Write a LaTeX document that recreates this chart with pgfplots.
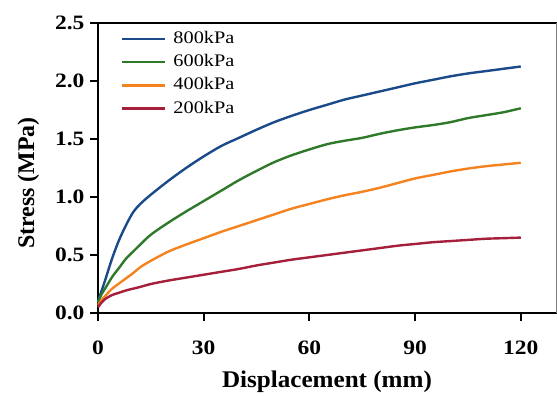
\documentclass[border=0pt]{standalone}
\usepackage{pgfplots}
\pgfplotsset{compat=1.18}
\usepackage{fontspec}
\setmainfont{Liberation Serif}[FakeStretch=1.15]
\newfontfamily\ylabfont{Liberation Serif}
\newfontfamily\xlabfont{Liberation Serif}[FakeStretch=1.05]
\definecolor{c800}{HTML}{1B4A8A}
\definecolor{c600}{HTML}{2F7A2A}
\definecolor{c400}{HTML}{F5821F}
\definecolor{c200}{HTML}{A51E3A}
\begin{document}
\begin{tikzpicture}
\begin{axis}[
  scale only axis,
  width=458bp, height=290bp,
  xmin=0, xmax=130, ymin=0, ymax=2.5,
  xtick={0,30,60,90,120},
  ytick={0,0.5,1.0,1.5,2.0,2.5},
  yticklabel style={/pgf/number format/fixed,/pgf/number format/fixed zerofill,/pgf/number format/precision=1},
  /pgf/number format/assume math mode=true,
  xtick pos=bottom, ytick pos=left,
  axis line style={line width=2.4bp, black},
  tick align=outside,
  major tick length=8bp,
  xtick style={draw=black, line width=2.2bp},
  ytick style={draw=black, line width=2.2bp},
  ticklabel style={font=\fontsize{20.5}{22}\selectfont\bfseries},
  xticklabel style={yshift=-16.5bp},
  yticklabel style={xshift=-2bp},
  xlabel={Displacement (mm)},
  ylabel={Stress (MPa)},
  every axis x label/.style={at={(rel axis cs:0.5,-0.2586)}, anchor=base, font=\fontsize{24}{26}\selectfont\xlabfont\bfseries},
  every axis y label/.style={at={(rel axis cs:-0.1397,0.448)}, rotate=90, anchor=base, font=\fontsize{24}{26}\selectfont\ylabfont\bfseries},
  legend style={draw=none, fill=none, inner sep=0bp, at={(rel axis cs:0.050,0.978)}, anchor=north west,
    font=\fontsize{17.7}{19}\selectfont, row sep=4.2bp, column sep=6bp,
    nodes={inner sep=1bp, text height=13bp, text depth=4bp}},
  legend cell align=left,
  legend image code/.code={\draw[#1, line width=2.4bp] (0bp,0bp) -- (43bp,0bp);},
  every axis plot/.append style={line width=2.4bp},
  clip=false,
]
\addplot[c800, smooth] coordinates {(0,0.10)(1,0.19)(2,0.28)(4,0.47)(6,0.63)(8,0.76)(10,0.87)(12,0.94)(15,1.02)(20,1.14)(25,1.25)(30,1.35)(35,1.44)(40,1.51)(45,1.58)(50,1.645)(55,1.70)(60,1.75)(65,1.795)(70,1.84)(75,1.875)(80,1.91)(85,1.945)(90,1.98)(95,2.01)(100,2.04)(105,2.065)(110,2.085)(115,2.105)(120,2.125)};
\addlegendentry{800kPa}
\addplot[c600, smooth] coordinates {(0,0.09)(1,0.16)(2,0.21)(4,0.31)(6,0.39)(8,0.47)(10,0.53)(12,0.59)(15,0.675)(20,0.78)(25,0.875)(30,0.965)(35,1.055)(40,1.145)(45,1.225)(50,1.30)(55,1.36)(60,1.41)(65,1.455)(70,1.485)(75,1.51)(80,1.545)(85,1.575)(90,1.60)(95,1.62)(100,1.645)(105,1.68)(110,1.705)(115,1.73)(120,1.765)};
\addlegendentry{600kPa}
\addplot[c400, smooth] coordinates {(0,0.07)(1,0.11)(2,0.145)(4,0.21)(6,0.255)(8,0.30)(10,0.345)(12,0.395)(15,0.45)(20,0.53)(25,0.59)(30,0.645)(35,0.70)(40,0.75)(45,0.80)(50,0.85)(55,0.90)(60,0.94)(65,0.98)(70,1.015)(75,1.045)(80,1.08)(85,1.12)(90,1.16)(95,1.19)(100,1.22)(105,1.245)(110,1.265)(115,1.28)(120,1.295)};
\addlegendentry{400kPa}
\addplot[c200, smooth] coordinates {(0,0.05)(1,0.09)(2,0.12)(4,0.155)(6,0.175)(8,0.195)(10,0.21)(12,0.225)(15,0.25)(20,0.28)(25,0.305)(30,0.33)(35,0.355)(40,0.38)(45,0.41)(50,0.435)(55,0.46)(60,0.48)(65,0.50)(70,0.52)(75,0.54)(80,0.56)(85,0.58)(90,0.595)(95,0.61)(100,0.62)(105,0.63)(110,0.64)(115,0.645)(120,0.65)};
\addlegendentry{200kPa}
\draw[line width=2.2bp, black] (axis cs:0,0) -- (axis cs:0,-0.07)
  (axis cs:30,0) -- (axis cs:30,-0.07)
  (axis cs:60,0) -- (axis cs:60,-0.07)
  (axis cs:90,0) -- (axis cs:90,-0.07)
  (axis cs:120,0) -- (axis cs:120,-0.07);
\draw[line width=2.2bp, black] (axis cs:0,0) -- (axis cs:-2.3,0)
  (axis cs:0,0.5) -- (axis cs:-2.3,0.5)
  (axis cs:0,1.0) -- (axis cs:-2.3,1.0)
  (axis cs:0,1.5) -- (axis cs:-2.3,1.5)
  (axis cs:0,2.0) -- (axis cs:-2.3,2.0)
  (axis cs:0,2.5) -- (axis cs:-2.3,2.5);
\draw[line width=3bp, white] (rel axis cs:1,0.995) -- (rel axis cs:1,0.005);
\draw[line width=1bp, gray] (rel axis cs:1,1) -- (rel axis cs:1,0);
\coordinate (LL) at (rel axis cs:0,0);
\coordinate (UR) at (rel axis cs:1,1);
\end{axis}
\pgfresetboundingbox
\path ([shift={(-98bp,-83bp)}]LL) rectangle ([shift={(1bp,23bp)}]UR);
\end{tikzpicture}
\end{document}
